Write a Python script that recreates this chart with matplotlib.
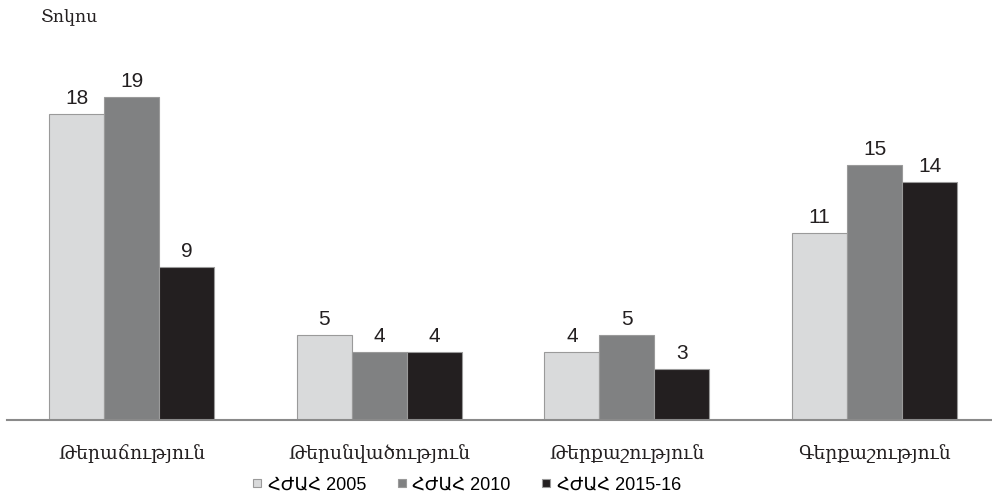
import numpy as np
import matplotlib.pyplot as plt
from matplotlib.patches import Patch

categories = ["Թերաճություն", "Թերսնվածություն", "Թերքաշություն", "Գերքաշություն"]
series_names = ["ՀԺԱՀ 2005", "ՀԺԱՀ 2010", "ՀԺԱՀ 2015-16"]
values_2005 = [18, 5, 4, 11]
values_2010 = [19, 4, 5, 15]
values_2015 = [9, 4, 3, 14]
colors = ["#d9dadb", "#808182", "#231f20"]

fig = plt.figure(figsize=(9.92, 4.97), dpi=100)
ax = fig.add_axes([7 / 992, 77 / 497, 985 / 992, 340 / 497])

x = np.arange(len(categories))
width = 0.222
for i, (vals, name, col) in enumerate(zip([values_2005, values_2010, values_2015], series_names, colors)):
    pos = x + (i - 1) * width
    ax.bar(pos, vals, width, color=col, edgecolor="#9a9a9a", linewidth=0.8, label=name, zorder=2)
    for px, v in zip(pos, vals):
        ax.text(px, v + 0.35, str(v), ha="center", va="bottom", fontsize=15,
                family="Liberation Sans", color="#231f20")

ax.set_xlim(-0.503, 3.474)
ax.set_ylim(0, 20)
for s in ["top", "right", "left"]:
    ax.spines[s].set_visible(False)
ax.spines["bottom"].set_color("#8a8a8a")
ax.spines["bottom"].set_linewidth(1.5)
ax.set_yticks([])
ax.set_xticks(x)
ax.set_xticklabels(categories, family="DejaVu Serif", fontsize=13.5, color="#231f20")
ax.tick_params(axis="x", length=0, pad=17)

fig.text(40 / 992, 1 - 18 / 497, "Տոկոս", family="DejaVu Serif", fontsize=12.5,
         va="center", ha="left", color="#231f20")

# square legend keys
handles = [Patch(facecolor=c, edgecolor="#9a9a9a", linewidth=0.8) for c in colors]
fig.legend(handles, series_names, loc="center", bbox_to_anchor=(467 / 992, 1 - 485 / 497),
           ncol=3, frameon=False, handlelength=0.45, handleheight=0.32, handletextpad=0.35,
           columnspacing=1.75,
           prop={"family": ["Liberation Sans", "DejaVu Sans"], "size": 13})

fig.savefig("out.png", dpi=100)
